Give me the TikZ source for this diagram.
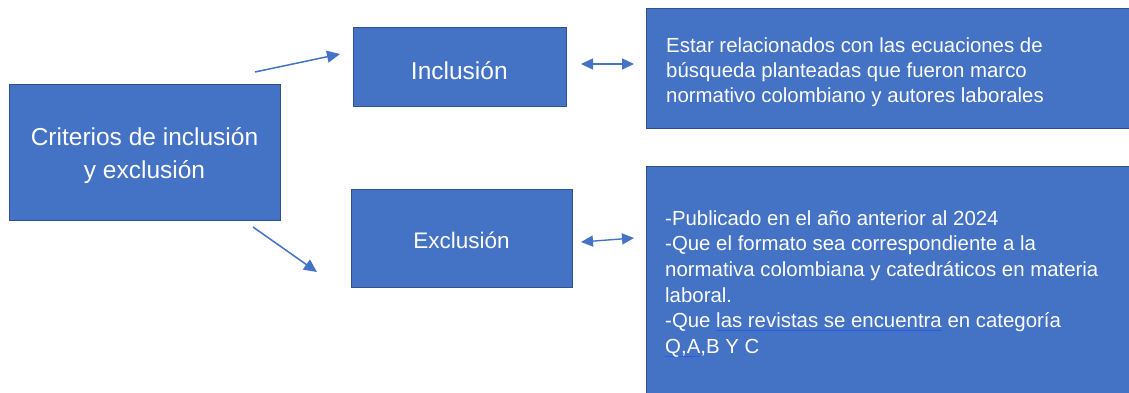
\documentclass[tikz,border=0pt]{standalone}
\usepackage{fontspec}
\setmainfont{Liberation Sans}
\usetikzlibrary{arrows.meta}
\definecolor{boxblue}{HTML}{4472C4}
\definecolor{edgeblue}{HTML}{2F528F}
\definecolor{ulblue}{HTML}{2A5BE0}
\newcommand\gramul[1]{\setbox0=\hbox{#1}\rlap{\color{ulblue}\rule[-3.5pt]{\wd0}{0.9pt}}\box0\relax}
\begin{document}
\begin{tikzpicture}[x=1pt,y=-1pt,
  box/.style={draw=edgeblue, line width=1.2pt, fill=boxblue, inner sep=0pt},
  lbl/.style={text=white, inner sep=0pt},
  arr/.style={draw=boxblue, line width=1.5pt, -{Triangle[length=13pt,width=12pt]}},
  darr/.style={draw=boxblue, line width=1.4pt, {Triangle[length=12pt,width=11pt]}-{Triangle[length=12pt,width=11pt]}}]
\useasboundingbox (0,0) rectangle (1129,392);
\fill[white] (0,0) rectangle (1129,392);
\clip (0,0) rectangle (1129,392);

% boxes
\node[box, anchor=north west, minimum width=271pt, minimum height=136pt] (crit) at (9,84) {};
\node[box, anchor=north west, minimum width=213pt, minimum height=79pt] (incl) at (353,27) {};
\node[box, anchor=north west, minimum width=221pt, minimum height=98pt] (excl) at (351,189) {};
\node[box, anchor=north west, minimum width=500pt, minimum height=120pt] (inclR) at (646,8) {};
\node[box, anchor=north west, minimum width=500pt, minimum height=240pt] (exclR) at (646,166) {};

% texts
\node[lbl, anchor=north, align=center, font=\fontsize{24.5}{33}\selectfont] (critT) at (144.5,127) {Criterios de inclusión\\y exclusión};
\node[lbl, anchor=base, font=\fontsize{24.5}{30}\selectfont] (inclT) at (459.3,79) {Inclusión};
\node[lbl, anchor=base, font=\fontsize{22.5}{28}\selectfont] (exclT) at (461.5,248) {Exclusión};
\node[lbl, anchor=north west, align=left, font=\fontsize{20.4}{25}\selectfont] (inclRT) at (666,37.4)
  {Estar relacionados con las ecuaciones de\\búsqueda planteadas que fueron marco\\normativo colombiano y autores laborales};
\node[lbl, anchor=north west, align=left, font=\fontsize{20.4}{25.6}\selectfont] (exclRT) at (665,210.4)
  {-Publicado en el año anterior al 2024\\-Que el formato sea correspondiente a la\\normativa colombiana y catedráticos en materia\\laboral.\\-Que \gramul{las revistas se encuentra} en categoría\\\gramul{Q,A},B Y C};

% connectors
\coordinate (a1s) at (255,72);
\coordinate (a1e) at (340,54);
\coordinate (a2s) at (253,227);
\coordinate (a2e) at (317,272);
\coordinate (d1s) at (581,64);
\coordinate (d1e) at (634,64);
\coordinate (d2s) at (581,242);
\coordinate (d2e) at (634,238);
\draw[arr] (a1s) -- (a1e);
\draw[arr] (a2s) -- (a2e);
\draw[darr] (d1s) -- (d1e);
\draw[darr] (d2s) -- (d2e);
\end{tikzpicture}
\end{document}
